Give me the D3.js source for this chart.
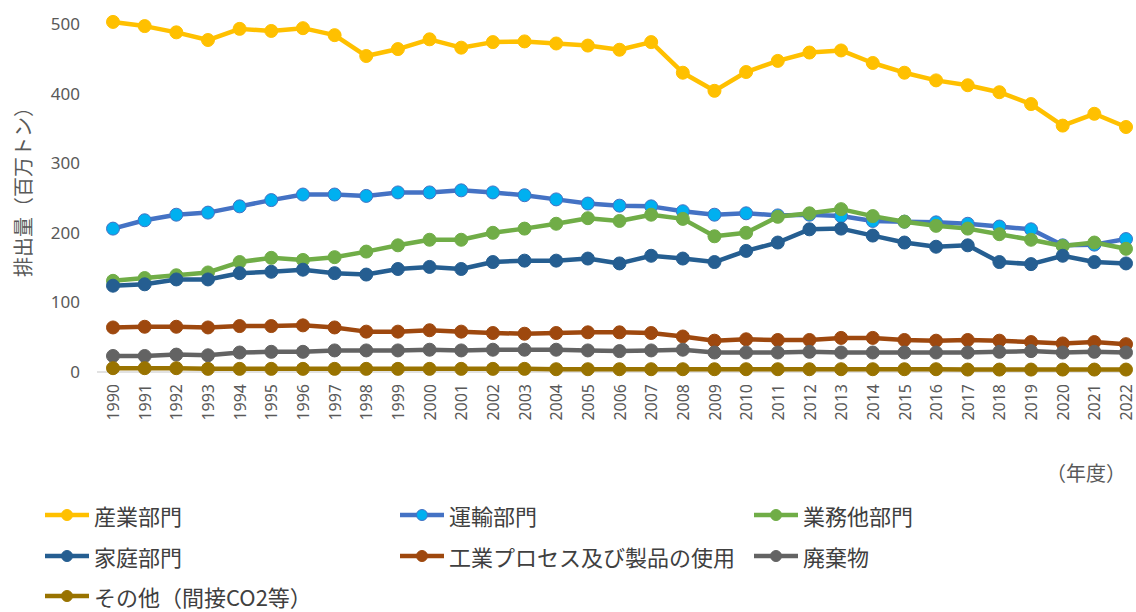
<!DOCTYPE html>
<html><head><meta charset="utf-8">
<script src="https://cdn.jsdelivr.net/npm/d3@7"></script>
<style>body{margin:0;background:#fff}svg{display:block}</style>
</head><body>
<svg id="c" width="1136" height="612"></svg>
<script>
const years = d3.range(1990, 2023).map(String);
const industry = [503,497,488,477,493,490,494,484,454,464,478,466,474,475,472,469,463,474,430,404,431,447,459,462,444,430,419,412,402,385,354,371,352];
const transport = [206,218,226,229,238,247,255,255,253,258,258,261,258,254,248,242,239,238,231,226,228,225,226,224,217,216,215,213,209,205,182,183,191];
const commercial = [131,135,139,143,158,164,161,165,173,182,190,190,200,206,213,221,217,226,220,195,200,223,228,234,224,216,210,206,198,190,181,186,177];
const household = [124,126,133,133,142,144,147,142,140,148,151,148,158,160,160,163,156,167,163,158,174,186,205,206,196,186,180,182,158,155,167,158,156];
const process = [64,65,65,64,66,66,67,64,58,58,60,58,56,55,56,57,57,56,51,45,47,46,46,49,49,46,45,46,45,43,41,43,40];
const waste = [23,23,25,24,28,29,29,31,31,31,32,31,32,32,32,31,30,31,32,28,28,28,29,28,28,28,28,28,29,30,28,29,28];
const other = [5.5,5.5,5.5,4.5,4.5,4.5,4.5,4.5,4.5,4.5,4.5,4.5,4.5,4.5,4,4,4,4,4,4,4,4,4,4,4,4,4,3.5,3.5,3.5,3.5,3.5,3.5];
const seriesNames = ["産業部門","運輸部門","業務他部門","家庭部門","工業プロセス及び製品の使用","廃棄物","その他（間接CO2等）"];
const yTicks = [0,100,200,300,400,500];
const yTitle = "排出量（百万トン）";
const xTitle = "（年度）";

const series = [
  {name: seriesNames[0], values: industry, line: "#FFC000", fill: "#FFC000"},
  {name: seriesNames[1], values: transport, line: "#4472C4", fill: "#00B0F0"},
  {name: seriesNames[2], values: commercial, line: "#70AD47", fill: "#70AD47"},
  {name: seriesNames[3], values: household, line: "#255E91", fill: "#255E91"},
  {name: seriesNames[4], values: process, line: "#9E480E", fill: "#9E480E"},
  {name: seriesNames[5], values: waste, line: "#636363", fill: "#636363"},
  {name: seriesNames[6], values: other, line: "#997300", fill: "#997300"}
];

const svg = d3.select("#c");
const x = d3.scalePoint().domain(years).range([113, 1126]);
const y = d3.scaleLinear().domain([0, 500]).range([372, 24]);
const font = "'Noto Sans CJK JP','Noto Sans',sans-serif";

// baseline
svg.append("line").attr("x1", 97).attr("x2", 1131).attr("y1", y(0)).attr("y2", y(0))
  .attr("stroke", "#d9d9d9").attr("stroke-width", 1.5);

// y axis
const yAxis = svg.append("g").attr("transform", "translate(97,0)")
  .call(d3.axisLeft(y).tickValues(yTicks).tickSize(0).tickPadding(17));
yAxis.select(".domain").remove();
yAxis.selectAll("text").attr("font-family", "'Noto Sans',sans-serif").attr("font-size", 17).attr("fill", "#595959");

// x axis
const xAxis = svg.append("g").attr("transform", `translate(0,${y(0)})`)
  .call(d3.axisBottom(x).tickSize(0));
xAxis.select(".domain").remove();
xAxis.selectAll("text")
  .attr("font-family", "'Noto Sans',sans-serif").attr("font-size", 16).attr("fill", "#595959")
  .attr("text-anchor", "end").attr("transform", "rotate(-90)")
  .attr("x", -12).attr("y", 0).attr("dy", "0.35em");

// titles
svg.append("text").attr("transform", "translate(22,187) rotate(-90)")
  .attr("text-anchor", "middle").attr("dominant-baseline", "central")
  .attr("font-family", font).attr("font-size", 20).attr("fill", "#595959").text(yTitle);
svg.append("text").attr("x", 1126).attr("y", 472).attr("text-anchor", "end")
  .attr("dominant-baseline", "central")
  .attr("font-family", font).attr("font-size", 20).attr("fill", "#595959").text(xTitle);

// lines
const line = d3.line().x((d, i) => x(years[i])).y(d => y(d));
series.forEach(s => {
  const g = svg.append("g");
  g.append("path").datum(s.values).attr("d", line).attr("fill", "none")
    .attr("stroke", s.line).attr("stroke-width", 4.5).attr("stroke-linejoin", "round");
  g.selectAll("circle").data(s.values).join("circle")
    .attr("cx", (d, i) => x(years[i])).attr("cy", d => y(d)).attr("r", 6.5)
    .attr("fill", s.fill).attr("stroke", s.line).attr("stroke-width", 1);
});

// legend
const cols = [45, 400, 754];
const rows = [515, 556, 596];
series.forEach((s, i) => {
  const cx = cols[i % 3], cy = rows[Math.floor(i / 3)];
  const g = svg.append("g").attr("transform", `translate(${cx},${cy})`);
  g.append("line").attr("x1", 0).attr("x2", 44).attr("y1", 0).attr("y2", 0)
    .attr("stroke", s.line).attr("stroke-width", 4.5);
  g.append("circle").attr("cx", 22).attr("cy", 0).attr("r", 5.5).attr("fill", s.fill).attr("stroke", s.line);
  g.append("text").attr("x", 49).attr("y", 0).attr("dominant-baseline", "central")
    .attr("font-family", font).attr("font-size", 22).attr("fill", "#404040").text(s.name);
});
</script>
</body></html>
